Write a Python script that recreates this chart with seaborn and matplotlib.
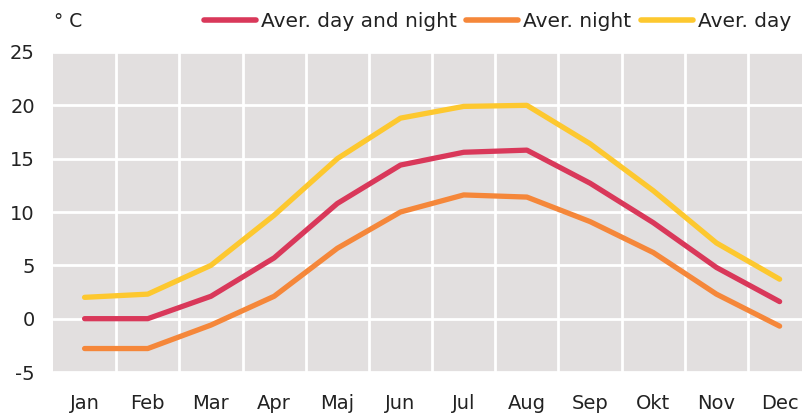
import matplotlib
matplotlib.use('Agg')
import matplotlib.pyplot as plt
from matplotlib.lines import Line2D
import seaborn as sns
import pandas as pd
import numpy as np

months = ['Jan', 'Feb', 'Mar', 'Apr', 'Maj', 'Jun', 'Jul', 'Aug', 'Sep', 'Okt', 'Nov', 'Dec']
day_night = [0.0, 0.0, 2.1, 5.7, 10.8, 14.4, 15.6, 15.8, 12.7, 9.0, 4.8, 1.6]
night = [-2.8, -2.8, -0.6, 2.1, 6.6, 10.0, 11.6, 11.4, 9.1, 6.2, 2.3, -0.7]
day = [2.0, 2.3, 5.0, 9.7, 15.0, 18.8, 19.9, 20.0, 16.4, 12.0, 7.1, 3.7]
series = ['Aver. day and night', 'Aver. night', 'Aver. day']
colors = ['#d9385a', '#f5873a', '#fdc82f']

sns.set_style('white')
plt.rcParams['font.family'] = ['DejaVu Sans']
plt.rcParams['axes.unicode_minus'] = False

Df = pd.DataFrame({
    'x': list(range(12)) * 3,
    'temp': day_night + night + day,
    'series': [series[0]] * 12 + [series[1]] * 12 + [series[2]] * 12,
})

fig = plt.figure(figsize=(8.03, 4.15), dpi=100)
ax = fig.add_axes([0.066, 0.1036, 0.934, 0.7711])
ax.set_facecolor('#e2dfdf')

sns.lineplot(data=Df, x='x', y='temp', hue='series', hue_order=series,
             palette=colors, linewidth=3.8, ax=ax, legend=False,
             solid_capstyle='round')

ax.set_xlim(-0.5, 11.37)
ax.set_ylim(-5, 25)
ax.set_xticks(range(12))
ax.set_xticklabels(months)
ax.set_xticks(np.arange(0.5, 11, 1), minor=True)
ax.set_yticks(range(-5, 30, 5))
ax.grid(True, which='minor', axis='x', color='white', linewidth=2)
ax.grid(True, which='major', axis='y', color='white', linewidth=2)
ax.set_axisbelow(True)
ax.tick_params(which='both', length=0)
ax.tick_params(axis='x', pad=16, labelsize=14, colors='#222222')
ax.tick_params(axis='y', pad=13, labelsize=14, colors='#222222')
ax.set_xlabel('')
ax.set_ylabel('')
for s in ax.spines.values():
    s.set_visible(False)

fig.text(0.085, 0.948, '° C', fontsize=13.5, color='#222222', va='center', ha='center')

handles = [Line2D([0], [0], color=c, linewidth=4, solid_capstyle='round') for c in colors]
fig.legend(handles, series, loc='center right', bbox_to_anchor=(0.998, 0.948), ncol=3,
           frameon=False, fontsize=14.5, handlelength=2.6, handletextpad=0.25,
           columnspacing=0.45, borderpad=0, labelcolor='#222222')

fig.savefig('out.png', dpi=100)
